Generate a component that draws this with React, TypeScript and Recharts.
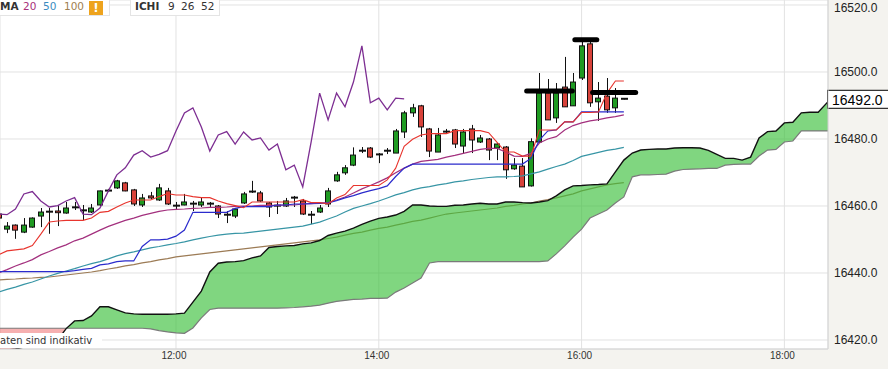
import React from 'react';
import { ComposedChart, XAxis, YAxis, CartesianGrid, Line, Area, Bar, ReferenceLine } from 'recharts';

// 5-minute candles starting at 10:15 (minutes since midnight)
const FIRST_BAR_MINUTE = 615;
const BAR_MINUTES = 5;
const X_DOMAIN: [number, number] = [615.86, 1105.8];
const Y_DOMAIN: [number, number] = [16417.31, 16521.49];
const yTicks = [16420, 16440, 16460, 16480, 16500, 16520];
const xTicks = [720, 840, 960, 1080];
const lastPrice = 16492.0;

const opens = [16457.6, 16453.1, 16454.3, 16452.2, 16453.7, 16457.0, 16458.2, 16458.5, 16457.9, 16459.7,
  16458.8, 16458.2, 16460.3, 16464.5, 16465.4, 16466.9, 16464.8, 16460.3, 16463.0, 16461.8,
  16464.5, 16460.0, 16460.3, 16460.6, 16460.3, 16460.6, 16460.0, 16457.3, 16457.0, 16460.9,
  16464.2, 16463.9, 16460.9, 16460.0, 16460.0, 16462.4, 16461.5, 16457.3, 16458.2, 16460.6,
  16467.5, 16469.9, 16472.2, 16476.4, 16477.3, 16475.5, 16476.4, 16475.8, 16482.1, 16487.8,
  16489.9, 16483.0, 16476.1, 16482.1, 16482.7, 16477.9, 16483.0, 16479.1, 16480.0, 16477.3,
  16477.6, 16471.1, 16471.9, 16466.0, 16479.1, 16493.7, 16486.3, 16495.5, 16489.9, 16498.2,
  16508.4, 16491.1, 16492.8, 16489.3, 16492.0];
const highs = [16460.9, 16455.2, 16454.5, 16456.4, 16456.6, 16459.4, 16459.4, 16460.3, 16461.2, 16461.2,
  16460.3, 16460.6, 16464.6, 16465.1, 16467.8, 16467.2, 16465.1, 16463.6, 16464.2, 16466.6,
  16465.4, 16461.2, 16463.6, 16461.5, 16462.4, 16461.2, 16460.3, 16458.5, 16459.4, 16464.2,
  16467.5, 16464.5, 16461.2, 16461.5, 16462.4, 16463.0, 16462.1, 16458.5, 16460.3, 16465.4,
  16470.2, 16472.2, 16477.5, 16477.6, 16477.6, 16475.8, 16477.3, 16483.0, 16488.4, 16490.5,
  16490.2, 16483.3, 16483.3, 16483.0, 16483.0, 16483.0, 16484.2, 16481.2, 16480.3, 16478.8,
  16477.9, 16474.3, 16474.3, 16480.2, 16499.7, 16497.9, 16496.7, 16504.5, 16499.7, 16510.1,
  16509.8, 16497.0, 16498.2, 16495.2, 16492.2];
const lows = [16451.9, 16451.9, 16450.2, 16451.9, 16453.5, 16453.7, 16451.7, 16454.0, 16457.7, 16458.8,
  16455.8, 16457.9, 16460.0, 16464.2, 16465.1, 16464.4, 16460.0, 16459.7, 16462.1, 16461.5,
  16460.3, 16458.8, 16460.2, 16458.5, 16459.7, 16459.4, 16456.4, 16454.9, 16456.4, 16460.6,
  16463.9, 16461.2, 16456.7, 16457.6, 16459.7, 16459.7, 16457.3, 16454.6, 16457.9, 16459.7,
  16467.2, 16469.3, 16471.9, 16475.8, 16474.3, 16472.8, 16475.5, 16475.8, 16480.3, 16486.6,
  16480.6, 16474.6, 16476.1, 16481.8, 16477.3, 16475.8, 16475.8, 16478.8, 16473.7, 16473.7,
  16468.1, 16470.8, 16465.7, 16465.8, 16478.8, 16485.7, 16484.8, 16489.6, 16489.9, 16497.6,
  16489.6, 16485.4, 16487.8, 16487.8, 16491.8];
const closes = [16456.4, 16454.0, 16452.8, 16454.3, 16456.4, 16458.2, 16458.3, 16458.0, 16459.4, 16459.6,
  16458.7, 16459.4, 16464.5, 16464.6, 16467.5, 16464.5, 16460.6, 16462.4, 16462.4, 16465.4,
  16460.6, 16460.1, 16461.2, 16460.7, 16461.2, 16460.7, 16457.6, 16457.4, 16459.1, 16463.6,
  16464.3, 16461.5, 16459.7, 16460.1, 16461.5, 16462.5, 16457.6, 16457.4, 16459.4, 16464.5,
  16469.3, 16471.4, 16475.2, 16476.5, 16474.6, 16475.4, 16476.5, 16482.4, 16487.8, 16489.3,
  16483.6, 16476.4, 16481.2, 16482.2, 16478.5, 16482.1, 16479.7, 16480.3, 16476.7, 16478.5,
  16470.8, 16472.2, 16465.7, 16479.2, 16493.7, 16485.7, 16493.7, 16489.6, 16497.0, 16507.8,
  16490.8, 16492.2, 16488.7, 16492.2, 16492.0];

// Ichimoku 9 / 26 / 52
const tenkan = [16445.4, 16446.6, 16446.9, 16447.2, 16448.2, 16451.6, 16455.2, 16455.5, 16455.7, 16455.7,
  16455.7, 16456.4, 16458.1, 16458.4, 16459.7, 16460.9, 16461.8, 16461.8, 16461.8, 16462.8,
  16463.7, 16463.3, 16463.3, 16462.8, 16462.5, 16462.5, 16461.5, 16460.7, 16460.1, 16459.5,
  16461.2, 16461.2, 16461.2, 16461.2, 16461.2, 16461.2, 16461.9, 16461.0, 16461.0, 16460.6,
  16462.4, 16463.4, 16466.1, 16466.1, 16466.1, 16466.1, 16467.8, 16471.3, 16477.8, 16479.9,
  16481.2, 16481.6, 16481.6, 16481.6, 16482.5, 16482.5, 16482.5, 16482.5, 16481.9, 16479.0,
  16476.1, 16476.1, 16474.9, 16474.9, 16482.7, 16482.7, 16482.7, 16485.1, 16485.1, 16487.9,
  16487.9, 16488.1, 16493.7, 16497.3, 16497.3];
const kijun = [16440.4, 16440.4, 16440.4, 16440.4, 16440.4, 16440.4, 16440.4, 16440.4, 16440.4, 16440.7,
  16441.1, 16441.4, 16442.4, 16442.7, 16443.4, 16443.6, 16443.6, 16447.9, 16449.9, 16449.9,
  16450.1, 16451.0, 16452.8, 16458.1, 16458.1, 16458.1, 16458.1, 16458.1, 16459.3, 16459.8,
  16459.8, 16459.8, 16459.8, 16460.3, 16460.3, 16460.6, 16460.6, 16460.7, 16460.8, 16460.9,
  16461.6, 16462.4, 16463.1, 16463.9, 16464.6, 16465.2, 16466.0, 16468.8, 16471.3, 16472.5,
  16472.5, 16472.5, 16472.5, 16472.5, 16472.5, 16472.5, 16472.5, 16472.5, 16472.5, 16472.5,
  16472.5, 16472.5, 16472.5, 16474.2, 16479.7, 16482.4, 16482.7, 16485.1, 16485.1, 16488.1,
  16488.1, 16488.1, 16488.1, 16488.1, 16488.1];
const chikou = [16457.6, 16457.4, 16459.1, 16463.6, 16464.3, 16461.5, 16459.7, 16460.1, 16461.5, 16462.5,
  16457.6, 16457.4, 16459.4, 16464.5, 16469.3, 16471.4, 16475.2, 16476.5, 16474.6, 16475.4,
  16476.5, 16482.4, 16487.8, 16489.3, 16483.6, 16476.4, 16481.2, 16482.2, 16478.5, 16482.1,
  16479.7, 16480.3, 16476.7, 16478.5, 16470.8, 16472.2, 16465.7, 16479.2, 16493.7, 16485.7,
  16493.7, 16489.6, 16497.0, 16507.8, 16490.8, 16492.2, 16488.7, 16492.2, 16492.0];
const spanA = [16416.4, 16417.0, 16417.3, 16417.9, 16418.2, 16418.8, 16419.4, 16420.0, 16423.4, 16425.7,
  16425.8, 16427.2, 16429.9, 16429.9, 16429.0, 16428.1, 16427.8, 16427.7, 16427.7, 16427.7,
  16427.7, 16427.8, 16428.0, 16431.3, 16434.6, 16440.3, 16442.9, 16443.3, 16443.4, 16443.7,
  16444.5, 16445.1, 16447.6, 16447.9, 16448.1, 16448.2, 16448.7, 16449.0, 16449.7, 16451.2,
  16451.9, 16452.5, 16453.4, 16454.5, 16455.5, 16456.3, 16456.7, 16457.3, 16458.4, 16460.3,
  16460.3, 16460.0, 16459.9, 16459.9, 16460.2, 16460.3, 16460.6, 16460.8, 16460.6, 16460.6,
  16461.2, 16461.2, 16461.0, 16460.9, 16461.2, 16461.6, 16463.0, 16464.8, 16466.0, 16466.1,
  16466.3, 16466.4, 16466.6, 16470.2, 16473.7, 16475.8, 16476.7, 16476.9, 16477.0, 16477.0,
  16477.3, 16477.4, 16477.4, 16477.3, 16476.6, 16475.4, 16474.2, 16474.2, 16473.7, 16474.6,
  16480.3, 16482.2, 16482.4, 16484.8, 16485.0, 16487.8, 16488.0, 16488.0, 16490.7, 16493.4,
  16494.6];
const spanB = [16423.5, 16423.5, 16423.5, 16423.5, 16423.5, 16423.5, 16423.5, 16423.5, 16423.5, 16423.5,
  16423.5, 16423.5, 16423.5, 16423.5, 16423.5, 16423.5, 16423.5, 16423.5, 16423.3, 16422.8,
  16422.4, 16422.1, 16422.0, 16423.6, 16426.6, 16429.1, 16429.5, 16429.5, 16429.5, 16429.5,
  16429.5, 16429.5, 16429.5, 16429.5, 16429.6, 16429.7, 16429.9, 16430.1, 16430.4, 16431.0,
  16431.5, 16431.8, 16432.1, 16432.2, 16432.4, 16432.4, 16432.5, 16434.3, 16435.5, 16437.0,
  16438.5, 16443.0, 16443.4, 16443.4, 16443.4, 16443.4, 16443.4, 16443.4, 16443.4, 16443.4,
  16443.4, 16443.4, 16443.4, 16443.4, 16443.4, 16443.6, 16445.7, 16448.1, 16450.7, 16453.1,
  16456.4, 16457.6, 16458.8, 16460.9, 16462.7, 16468.7, 16469.3, 16469.3, 16469.4, 16469.5,
  16470.4, 16470.9, 16471.0, 16471.1, 16471.2, 16471.2, 16472.2, 16472.4, 16472.5, 16472.5,
  16474.9, 16476.7, 16476.9, 16479.1, 16479.4, 16482.4, 16482.4, 16482.4, 16482.4, 16482.4,
  16482.4];

// Moving averages 20 / 50 / 100
const ma20 = [16440.0, 16441.0, 16442.1, 16443.0, 16444.0, 16445.4, 16446.4, 16447.5, 16448.4, 16449.6,
  16450.4, 16451.6, 16452.8, 16453.9, 16454.8, 16455.7, 16456.4, 16457.2, 16457.8, 16458.4,
  16458.8, 16459.0, 16459.1, 16459.3, 16459.4, 16459.6, 16459.6, 16459.7, 16459.9, 16460.0,
  16460.0, 16460.2, 16460.2, 16460.2, 16460.3, 16460.3, 16460.6, 16460.7, 16460.9, 16461.0,
  16461.8, 16462.7, 16463.9, 16465.1, 16466.1, 16467.2, 16468.4, 16469.9, 16471.3, 16472.5,
  16473.3, 16473.6, 16473.9, 16474.6, 16475.1, 16475.7, 16476.3, 16476.9, 16477.2, 16477.2,
  16476.1, 16474.9, 16474.8, 16475.7, 16478.8, 16480.0, 16480.7, 16482.7, 16484.0, 16484.8,
  16485.4, 16485.8, 16486.3, 16486.7, 16487.2];
const ma50 = [16434.3, 16435.1, 16435.8, 16436.6, 16437.3, 16438.2, 16439.1, 16439.9, 16440.6, 16441.3,
  16442.1, 16442.8, 16443.4, 16444.2, 16445.1, 16445.8, 16446.3, 16446.9, 16447.5, 16447.9,
  16448.4, 16448.8, 16449.3, 16449.9, 16450.4, 16450.9, 16451.3, 16451.6, 16451.8, 16451.9,
  16452.2, 16452.5, 16452.8, 16453.1, 16453.4, 16453.7, 16454.0, 16454.6, 16455.2, 16456.1,
  16457.0, 16458.2, 16459.3, 16460.0, 16460.7, 16461.5, 16462.4, 16463.3, 16464.0, 16464.8,
  16465.4, 16465.8, 16466.3, 16466.7, 16467.2, 16467.5, 16467.9, 16468.2, 16468.5, 16468.7,
  16468.7, 16468.8, 16469.0, 16469.6, 16470.2, 16471.0, 16471.8, 16472.5, 16473.6, 16474.8,
  16475.4, 16476.0, 16476.6, 16477.0, 16477.5];
const ma100 = [16437.9, 16438.1, 16438.2, 16438.4, 16438.5, 16438.7, 16438.8, 16439.1, 16439.4, 16439.7,
  16440.0, 16440.3, 16440.7, 16441.2, 16441.6, 16442.1, 16442.5, 16443.0, 16443.4, 16443.9,
  16444.3, 16444.8, 16445.1, 16445.4, 16445.7, 16446.0, 16446.3, 16446.6, 16446.9, 16447.2,
  16447.5, 16447.8, 16448.1, 16448.4, 16448.7, 16449.0, 16449.3, 16449.6, 16449.9, 16450.3,
  16450.7, 16451.3, 16451.8, 16452.2, 16452.8, 16453.3, 16453.7, 16454.3, 16454.8, 16455.4,
  16455.8, 16456.4, 16457.0, 16457.6, 16457.9, 16458.2, 16458.5, 16458.8, 16459.1, 16459.4,
  16459.9, 16460.2, 16460.6, 16460.9, 16461.5, 16461.9, 16462.4, 16463.0, 16463.6, 16464.5,
  16465.1, 16465.7, 16466.3, 16466.7, 16467.0];

// thick black level markers (time in minutes, price)
const markerLevel1 = [{ t: 927.5, v: 16494.3 }, { t: 954.5, v: 16494.3 }];
const markerHigh = [{ t: 956, v: 16509.6 }, { t: 969, v: 16509.6 }];
const markerLevel2 = [{ t: 966.5, v: 16493.9 }, { t: 992, v: 16493.9 }];

const GREEN = '#1f9b22';
const RED = '#d8423a';

const rows = spanA.map((a, i) => {
  const b = spanB[i];
  const nextGreen = i + 1 < spanA.length && spanA[i + 1] >= spanB[i + 1];
  const row: Record<string, any> = {
    t: FIRST_BAR_MINUTE + BAR_MINUTES * i,
    spanA: a,
    spanB: b,
    cloudG: a >= b || nextGreen ? [Math.min(a, b), Math.max(a, b)] : null,
    cloudR: b > a ? [a, b] : null,
  };
  if (i < opens.length) {
    row.o = opens[i];
    row.h = highs[i];
    row.l = lows[i];
    row.c = closes[i];
    row.hl = [lows[i], highs[i]];
    row.tenkan = tenkan[i];
    row.kijun = kijun[i];
    row.ma20 = ma20[i];
    row.ma50 = ma50[i];
    row.ma100 = ma100[i];
  }
  if (i < chikou.length) row.chikou = chikou[i];
  return row;
});

const fmtTime = (m: number) => `${Math.floor(m / 60)}:${String(Math.round(m % 60)).padStart(2, '0')}`;

const Candle = (props: any) => {
  const { x, y, width, height, payload } = props;
  if (!payload || payload.o == null || !isFinite(y) || !isFinite(height)) return <g />;
  const { o, h, l, c } = payload;
  const top = Math.min(y, y + height);
  const span = Math.abs(height);
  const k = h > l ? span / (h - l) : 0;
  const py = (v: number) => top + (h - v) * k;
  const cx = Math.round(x + width / 2) + 0.5;
  const yO = py(o);
  const yC = py(c);
  const bodyTop = Math.min(yO, yC);
  const bodyBot = Math.max(yO, yC);
  const doji = Math.abs(c - o) < 0.3;
  return (
    <g>
      <line x1={cx} x2={cx} y1={py(h)} y2={py(l)} stroke="#111" strokeWidth={1} />
      {doji ? (
        <line x1={cx - 3.5} x2={cx + 3.5} y1={yC} y2={yC} stroke="#111" strokeWidth={2} />
      ) : (
        <rect x={cx - 3} y={bodyTop} width={5} height={Math.max(bodyBot - bodyTop, 1)}
          fill={c > o ? GREEN : RED} stroke="#111" strokeWidth={1} />
      )}
    </g>
  );
};

const PriceTag = (props: any) => {
  const { viewBox, text } = props;
  if (!viewBox) return null;
  const x = viewBox.x + viewBox.width;
  const y = viewBox.y;
  return (
    <g>
      <rect x={x - 0.5} y={y - 8.5} width={62} height={18} fill="#fff" stroke="#000" strokeWidth={1} />
      <text x={x + 4} y={y + 1} dominantBaseline="central" fontSize={14}
        fontFamily="'Liberation Sans', Arial, sans-serif" fill="#000">{text}</text>
    </g>
  );
};

const lineProps = { dot: false, activeDot: false, isAnimationActive: false, type: 'linear' as const };

export default function App() {
  const legendText: React.CSSProperties = {
    position: 'absolute', top: 0, lineHeight: '13px', fontSize: 10.5,
    fontFamily: "'DejaVu Sans', Verdana, sans-serif", color: '#333', whiteSpace: 'nowrap',
  };
  return (
    <div style={{ position: 'absolute', left: 0, top: 0, width: 888, height: 369, background: '#f4f3ef', overflow: 'hidden' }}>
      <ComposedChart width={888} height={369} data={rows} margin={{ top: 0, right: 0, bottom: 0, left: 0 }}>
        <CartesianGrid stroke="#e2e2e2" fill="#ffffff" />
        <XAxis dataKey="t" type="number" domain={X_DOMAIN} ticks={xTicks} allowDataOverflow
          height={20} tickFormatter={fmtTime} tickLine={false} tickSize={0} tickMargin={3}
          axisLine={{ stroke: '#d4d4d4' }}
          tick={{ fontSize: 10, fill: '#333', fontFamily: "'Liberation Sans', Arial, sans-serif", dx: -2 }} />
        <YAxis orientation="right" type="number" width={60} domain={Y_DOMAIN} ticks={yTicks} allowDataOverflow
          tickFormatter={(v: number) => v.toFixed(1)} tickLine={false} tickSize={0} tickMargin={6}
          axisLine={{ stroke: '#d4d4d4' }}
          tick={{ fontSize: 12, fill: '#222', fontFamily: "'Liberation Sans', Arial, sans-serif" }} />
        <Line dataKey="ma100" stroke="#9c7b55" strokeWidth={1.2} zIndex={50} {...(lineProps as any)} />
        <Area dataKey="cloudR" stroke="none" fill="#e83030" fillOpacity={0.38} isAnimationActive={false} activeDot={false} />
        <Area dataKey="cloudG" stroke="none" fill="#3cc03c" fillOpacity={0.65} isAnimationActive={false} activeDot={false} />
        <Line dataKey="spanB" stroke="#7a7a7a" strokeWidth={1.2} {...lineProps} />
        <Line dataKey="spanA" stroke="#111" strokeWidth={1.4} {...lineProps} />
        <Line dataKey="ma50" stroke="#3795a5" strokeWidth={1.2} {...lineProps} />
        <Line dataKey="ma20" stroke="#a3307e" strokeWidth={1.2} {...lineProps} />
        <Line dataKey="kijun" stroke="#2b2bcc" strokeWidth={1.2} {...lineProps} />
        <Line dataKey="tenkan" stroke="#e8352e" strokeWidth={1.1} {...lineProps} />
        <Line dataKey="chikou" stroke="#7d2e92" strokeWidth={1.3} {...lineProps} />
        <Bar dataKey="hl" barSize={6} shape={<Candle />} isAnimationActive={false} />
        <Line data={markerLevel1} dataKey="v" stroke="#000" strokeWidth={5} strokeLinecap="round" {...lineProps} />
        <Line data={markerHigh} dataKey="v" stroke="#000" strokeWidth={5} strokeLinecap="round" {...lineProps} />
        <Line data={markerLevel2} dataKey="v" stroke="#000" strokeWidth={5} strokeLinecap="round" {...lineProps} />
        <ReferenceLine y={lastPrice} stroke="none" ifOverflow="visible"
          label={<PriceTag text={lastPrice.toFixed(1)} />} />
      </ComposedChart>

      {/* indicator legend boxes */}
      <div style={{ position: 'absolute', left: -2, top: -1, width: 112, height: 17, background: '#fff', border: '1px solid #e4e4e4', boxSizing: 'border-box' }} />
      <span style={{ ...legendText, left: 0, fontWeight: 'bold' }}>MA</span>
      <span style={{ ...legendText, left: 23, color: '#a8307a' }}>20</span>
      <span style={{ ...legendText, left: 43, color: '#3a8cc0' }}>50</span>
      <span style={{ ...legendText, left: 64, color: '#a08050' }}>100</span>
      <div style={{ position: 'absolute', left: 89, top: 1, width: 14, height: 14, background: '#eea31d', color: '#fff', fontWeight: 'bold', fontSize: 12, lineHeight: '14px', textAlign: 'center', fontFamily: "'DejaVu Sans', sans-serif" }}>!</div>
      <div style={{ position: 'absolute', left: 130, top: -1, width: 90, height: 17, background: '#fff', border: '1px solid #e4e4e4', boxSizing: 'border-box' }} />
      <span style={{ ...legendText, left: 135, fontWeight: 'bold' }}>ICHI</span>
      <span style={{ ...legendText, left: 168 }}>9</span>
      <span style={{ ...legendText, left: 181 }}>26</span>
      <span style={{ ...legendText, left: 201 }}>52</span>

      {/* disclaimer */}
      <div style={{ position: 'absolute', left: 0, top: 333, width: 102, height: 15, background: '#fff', fontSize: 10, lineHeight: '15px', fontFamily: "'DejaVu Sans', Verdana, sans-serif", color: '#333', whiteSpace: 'nowrap' }}>aten sind indikativ</div>
    </div>
  );
}
